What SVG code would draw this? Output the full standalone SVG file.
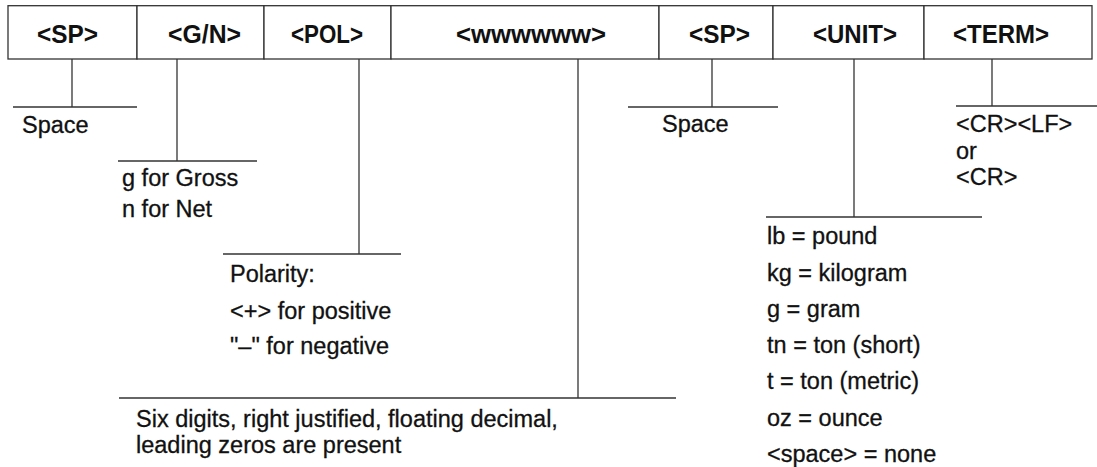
<svg xmlns="http://www.w3.org/2000/svg" width="1097" height="467" viewBox="0 0 1097 467">
<style>
.cell{fill:#fff;stroke:#333;stroke-width:1.3}
.hdr{font-family:"Liberation Sans",Arial,sans-serif;font-weight:bold;font-size:25px;fill:#111}
.lbl{font-family:"Liberation Sans",Arial,sans-serif;font-size:23.5px;fill:#111;stroke:#111;stroke-width:0.3}
.conn line{stroke:#333;stroke-width:1.3}
</style>
<rect x="0" y="0" width="1097" height="467" fill="#fff"/>
<g id="header">
  <g id="cell-sp1"><rect class="cell" x="8" y="5.7" width="129" height="53.3"/><text class="hdr" x="37" y="42.5" textLength="61" lengthAdjust="spacingAndGlyphs">&lt;SP&gt;</text></g>
  <g id="cell-gn"><rect class="cell" x="137" y="5.7" width="127" height="53.3"/><text class="hdr" x="168" y="42.5" textLength="73" lengthAdjust="spacingAndGlyphs">&lt;G/N&gt;</text></g>
  <g id="cell-pol"><rect class="cell" x="264" y="5.7" width="127" height="53.3"/><text class="hdr" x="291" y="42.5" textLength="72" lengthAdjust="spacingAndGlyphs">&lt;POL&gt;</text></g>
  <g id="cell-w"><rect class="cell" x="391" y="5.7" width="268" height="53.3"/><text class="hdr" x="456" y="42.5" textLength="150" lengthAdjust="spacingAndGlyphs">&lt;wwwwww&gt;</text></g>
  <g id="cell-sp2"><rect class="cell" x="659" y="5.7" width="114" height="53.3"/><text class="hdr" x="689" y="42.5" textLength="61" lengthAdjust="spacingAndGlyphs">&lt;SP&gt;</text></g>
  <g id="cell-unit"><rect class="cell" x="773" y="5.7" width="151" height="53.3"/><text class="hdr" x="813" y="42.5" textLength="84" lengthAdjust="spacingAndGlyphs">&lt;UNIT&gt;</text></g>
  <g id="cell-term"><rect class="cell" x="924" y="5.7" width="168" height="53.3"/><text class="hdr" x="953" y="42.5" textLength="96" lengthAdjust="spacingAndGlyphs">&lt;TERM&gt;</text></g>
</g>
<g id="connectors" class="conn">
  <line x1="72" y1="59" x2="72" y2="107"/><line x1="13" y1="107" x2="137" y2="107"/>
  <line x1="177" y1="59" x2="177" y2="161"/><line x1="118" y1="161" x2="257" y2="161"/>
  <line x1="359" y1="59" x2="359" y2="254"/><line x1="223" y1="254" x2="401" y2="254"/>
  <line x1="578" y1="59" x2="578" y2="398"/><line x1="119" y1="398" x2="676" y2="398"/>
  <line x1="712" y1="59" x2="712" y2="107"/><line x1="628" y1="107" x2="778" y2="107"/>
  <line x1="854" y1="59" x2="854" y2="217"/><line x1="766" y1="217" x2="982" y2="217"/>
  <line x1="992" y1="59" x2="992" y2="106"/><line x1="956" y1="106" x2="1097" y2="106"/>
</g>
<g id="label-sp1"><text class="lbl" x="22" y="133">Space</text></g>
<g id="label-gn"><text class="lbl" x="122" y="186">g for Gross</text><text class="lbl" x="122" y="217">n for Net</text></g>
<g id="label-pol"><text class="lbl" x="230" y="282">Polarity:</text><text class="lbl" x="230" y="319">&lt;+&gt; for positive</text><text class="lbl" x="230" y="354">"–" for negative</text></g>
<g id="label-w"><text class="lbl" x="136" y="427">Six digits, right justified, floating decimal,</text><text class="lbl" x="136" y="453">leading zeros are present</text></g>
<g id="label-sp2"><text class="lbl" x="662" y="132">Space</text></g>
<g id="label-unit">
  <text class="lbl" x="767" y="244">lb = pound</text>
  <text class="lbl" x="767" y="281">kg = kilogram</text>
  <text class="lbl" x="767" y="317">g = gram</text>
  <text class="lbl" x="767" y="353">tn = ton (short)</text>
  <text class="lbl" x="767" y="389">t = ton (metric)</text>
  <text class="lbl" x="767" y="426">oz = ounce</text>
  <text class="lbl" x="767" y="462">&lt;space&gt; = none</text>
</g>
<g id="label-term"><text class="lbl" x="956" y="132">&lt;CR&gt;&lt;LF&gt;</text><text class="lbl" x="956" y="159">or</text><text class="lbl" x="956" y="185">&lt;CR&gt;</text></g>
</svg>
